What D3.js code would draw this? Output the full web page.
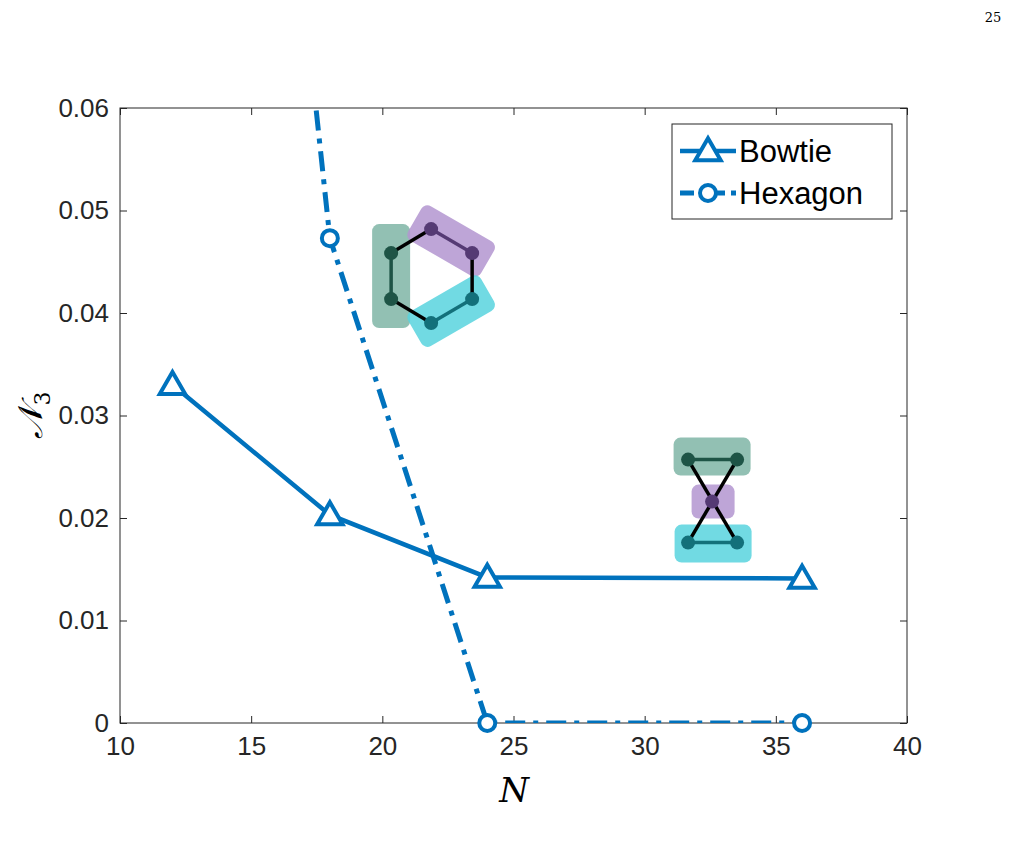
<!DOCTYPE html>
<html><head><meta charset="utf-8">
<script src="https://cdn.jsdelivr.net/npm/d3@7"></script>
<style>body{margin:0;background:#fff}</style>
</head><body>
<svg id="chart" width="1009" height="842"></svg>
<script>
var bowtieN = [12, 18, 24, 36];
var bowtieV = [0.0330, 0.0203, 0.0142, 0.0141];
var hexN = [12, 18, 24, 36];
var hexV = [0.191, 0.0473, 0, 0];
var xTicks = [10, 15, 20, 25, 30, 35, 40];
var yTicks = [0, 0.01, 0.02, 0.03, 0.04, 0.05, 0.06];

var margin = { top: 108, right: 102, bottom: 119, left: 120 },
    width = 1009 - margin.left - margin.right,
    height = 842 - margin.top - margin.bottom,
    blue = "#0072bd";

var svg = d3.select("#chart");
var g = svg.append("g").attr("transform", "translate(" + margin.left + "," + margin.top + ")");
var x = d3.scaleLinear().domain([10, 40]).range([0, width]);
var y = d3.scaleLinear().domain([0, 0.06]).range([height, 0]);

g.append("defs").append("clipPath").attr("id", "clip")
  .append("rect").attr("width", width).attr("height", height);

// axes
function styleAxis(sel) {
  sel.selectAll("text").attr("font-family", "Liberation Sans, Arial").attr("font-size", 26).attr("fill", "#262626");
  sel.selectAll("line").attr("stroke", "#262626");
  sel.select(".domain").remove();
}
g.append("g").attr("transform", "translate(0," + height + ")")
  .call(d3.axisBottom(x).tickValues(xTicks).tickSize(-7).tickPadding(14)).call(styleAxis);
g.append("g").call(d3.axisTop(x).tickValues(xTicks).tickSize(-7).tickFormat("")).call(styleAxis);
g.append("g").call(d3.axisLeft(y).tickValues(yTicks).tickSize(-7).tickPadding(11)
  .tickFormat(function (d) { return d === 0 ? "0" : d3.format(".2f")(d); })).call(styleAxis);
g.append("g").attr("transform", "translate(" + width + ",0)")
  .call(d3.axisRight(y).tickValues(yTicks).tickSize(-7).tickFormat("")).call(styleAxis);
g.append("rect").attr("width", width).attr("height", height)
  .attr("fill", "none").attr("stroke", "#262626").attr("stroke-width", 1);

// insets (centre in data units, offsets in px)
function inset(cx, cy, nodes, boxes, edges) {
  var px = x(cx), py = y(cy);
  var ig = g.append("g").attr("transform", "translate(" + px + "," + py + ")");
  boxes.forEach(function (b) {
    ig.append("rect").attr("x", -b.w / 2).attr("y", -b.h / 2).attr("width", b.w).attr("height", b.h)
      .attr("rx", 7).attr("fill", b.c).attr("opacity", 0.85)
      .attr("transform", "translate(" + b.x + "," + b.y + ") rotate(" + (b.r || 0) + ")");
  });
  edges.forEach(function (e) {
    ig.append("line").attr("x1", nodes[e[0]][0]).attr("y1", nodes[e[0]][1])
      .attr("x2", nodes[e[1]][0]).attr("y2", nodes[e[1]][1])
      .attr("stroke", e[2]).attr("stroke-width", 3.5);
  });
  nodes.forEach(function (n) {
    ig.append("circle").attr("cx", n[0]).attr("cy", n[1]).attr("r", 7).attr("fill", n[2]);
  });
}
var dg = "#1e5446", dp = "#553a74", dc = "#13707a";
inset(21.86, 0.0436,
  [[0, -47, dp], [41, -23, dp], [41, 23, dc], [0, 47, dc], [-40, 23, dg], [-40, -23, dg]],
  [{ x: -40, y: 0, w: 38, h: 104, c: "#7fb5a6" },
   { x: 20, y: -35, w: 84, h: 40, r: 30, c: "#b395d0" },
   { x: 20, y: 35, w: 84, h: 40, r: -30, c: "#58d3de" }],
  [[0, 1, dp], [1, 2, "#000"], [2, 3, dc], [3, 4, "#000"], [4, 5, dg], [5, 0, "#000"]]);
inset(32.57, 0.0216,
  [[-24, -42, dg], [25, -42, dg], [0, 0, dp], [-24, 41, dc], [25, 41, dc]],
  [{ x: 0, y: -45, w: 77, h: 38, c: "#7fb5a6" },
   { x: 1, y: 0, w: 43, h: 34, c: "#b395d0" },
   { x: 1, y: 42, w: 77, h: 38, c: "#58d3de" }],
  [[0, 1, dg], [3, 4, dc], [0, 4, "#000"], [1, 3, "#000"]]);

// lines
var bowtie = bowtieN.map(function (n, i) { return { n: n, v: bowtieV[i] }; });
var hex = hexN.map(function (n, i) { return { n: n, v: hexV[i] }; });
var line = d3.line().x(function (d) { return x(d.n); }).y(function (d) { return y(d.v); });
var lines = g.append("g").attr("clip-path", "url(#clip)");
lines.append("path").datum(bowtie).attr("d", line)
  .attr("fill", "none").attr("stroke", blue).attr("stroke-width", 4.5);
lines.append("path").datum(hex).attr("d", line)
  .attr("fill", "none").attr("stroke", blue).attr("stroke-width", 5).attr("stroke-dasharray", "20,8,5,8");

var tri = d3.symbol().type(d3.symbolTriangle).size(280);
g.selectAll(".tri").data(bowtie).enter().append("path")
  .attr("transform", function (d) { return "translate(" + x(d.n) + "," + (y(d.v) + 2) + ")"; })
  .attr("d", tri).attr("fill", "#fff").attr("stroke", blue).attr("stroke-width", 4);
g.selectAll(".circ").data(hex.filter(function (d) { return d.v <= 0.06; })).enter().append("circle")
  .attr("cx", function (d) { return x(d.n); }).attr("cy", function (d) { return y(d.v); })
  .attr("r", 8).attr("fill", "#fff").attr("stroke", blue).attr("stroke-width", 4);

// legend
var lg = svg.append("g").attr("transform", "translate(672,124)");
lg.append("rect").attr("width", 220).attr("height", 95).attr("fill", "#fff").attr("stroke", "#262626");
lg.append("line").attr("x1", 8).attr("x2", 64).attr("y1", 27).attr("y2", 27).attr("stroke", blue).attr("stroke-width", 4.5);
lg.append("path").attr("transform", "translate(36,29)").attr("d", tri).attr("fill", "#fff").attr("stroke", blue).attr("stroke-width", 4);
lg.append("line").attr("x1", 8).attr("x2", 64).attr("y1", 69).attr("y2", 69).attr("stroke", blue).attr("stroke-width", 5).attr("stroke-dasharray", "14,6,5,6");
lg.append("circle").attr("cx", 36).attr("cy", 69).attr("r", 8).attr("fill", "#fff").attr("stroke", blue).attr("stroke-width", 4);
lg.append("text").attr("x", 67).attr("y", 38).text("Bowtie").attr("font-family", "Liberation Sans, Arial").attr("font-size", 31);
lg.append("text").attr("x", 67).attr("y", 80).text("Hexagon").attr("font-family", "Liberation Sans, Arial").attr("font-size", 31);

// axis labels
svg.append("text").attr("x", 514).attr("y", 802).attr("text-anchor", "middle")
  .attr("font-family", "DejaVu Serif, serif").attr("font-style", "italic").attr("font-size", 34).text("N");
var yl = svg.append("text").attr("transform", "translate(42,415) rotate(-90)").attr("text-anchor", "middle")
  .attr("font-family", "DejaVu Serif, serif").attr("font-style", "italic").attr("font-size", 34);
yl.append("tspan").text("𝒩");
yl.append("tspan").attr("font-size", 22).attr("dy", 8).attr("font-style", "normal").text("3");
svg.append("text").attr("x", 993).attr("y", 22).attr("text-anchor", "middle")
  .attr("font-family", "DejaVu Serif, serif").attr("font-size", 13).text("25");
</script>
</body></html>
